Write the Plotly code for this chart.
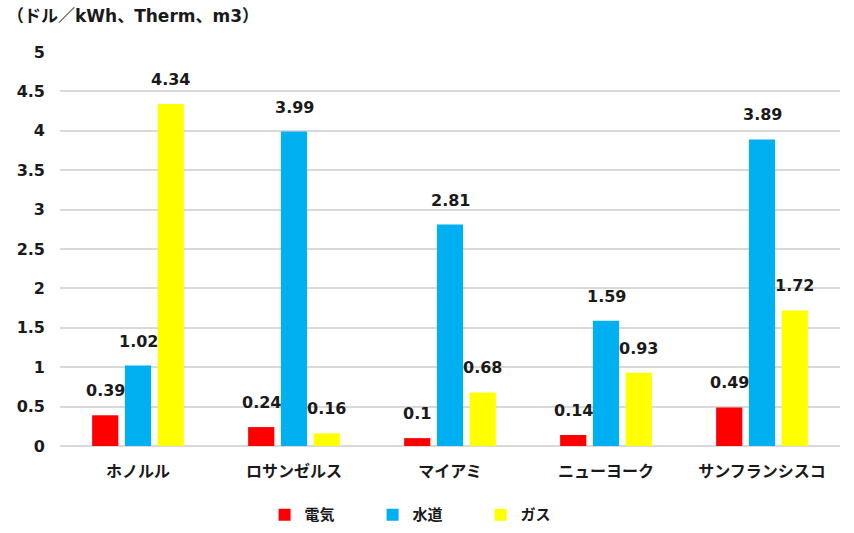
import plotly.graph_objects as go

cities = ["ホノルル", "ロサンゼルス", "マイアミ", "ニューヨーク", "サンフランシスコ"]
electric = [0.39, 0.24, 0.1, 0.14, 0.49]
water = [1.02, 3.99, 2.81, 1.59, 3.89]
gas = [4.34, 0.16, 0.68, 0.93, 1.72]
series_names = ["電気", "水道", "ガス"]
colors = ["#FF0000", "#00B0F0", "#FFFF00"]
y_ticks = [0, 0.5, 1, 1.5, 2, 2.5, 3, 3.5, 4, 4.5, 5]
unit_label = "（ドル／kWh、Therm、m3）"

FONT = "DejaVu Sans, Noto Sans CJK JP, sans-serif"
W, H = 854, 533
ML, MR, MT, MB = 60, 14, 52, 87
BARGAP, GROUPGAP = 0.37, 0.2

fig = go.Figure()
all_series = [electric, water, gas]
for name, vals, col in zip(series_names, all_series, colors):
    fig.add_trace(go.Bar(
        x=cities, y=vals, name=f"<b>{name}</b>",
        marker=dict(color=col, line=dict(width=0)),
    ))

# data labels as annotations, shifted horizontally to each bar of the group
cat_px = (W - ML - MR) / len(cities)
slot_px = cat_px * (1 - BARGAP) / len(all_series)
annotations = []
for si, vals in enumerate(all_series):
    off = (si - (len(all_series) - 1) / 2) * slot_px
    for c, v in zip(cities, vals):
        annotations.append(dict(
            x=c, y=v, xref="x", yref="y", text=f"<b>{v:g}</b>",
            showarrow=False, xshift=off, yshift=13, yanchor="bottom",
            font=dict(size=16, family=FONT, color="#1a1a1a")))
annotations.append(dict(text=f"<b>{unit_label}</b>", xref="paper", yref="paper",
                        x=-0.07, y=1.06, xanchor="left", yanchor="bottom",
                        showarrow=False, font=dict(size=17, family=FONT, color="#1a1a1a")))

fig.update_layout(
    width=W, height=H,
    margin=dict(l=ML, r=MR, t=MT, b=MB, autoexpand=False),
    paper_bgcolor="white", plot_bgcolor="white",
    barmode="group", bargap=BARGAP, bargroupgap=GROUPGAP,
    font=dict(family=FONT, color="#1a1a1a"),
    showlegend=True,
    legend=dict(orientation="h", x=0.47, xanchor="center",
                yref="container", y=0.034, yanchor="middle",
                font=dict(size=15, family=FONT), itemwidth=30,
                entrywidth=63),
    annotations=annotations,
)
fig.update_yaxes(range=[0, 5], tickvals=y_ticks, ticktext=[f"<b>{t:g}</b>" for t in y_ticks],
                 showgrid=True, gridcolor="#D9D9D9", gridwidth=1.5,
                 zeroline=True, zerolinecolor="#D9D9D9", zerolinewidth=1.5,
                 tickfont=dict(size=16, family=FONT, color="#1a1a1a"),
                 ticklabelstandoff=14, showline=False, automargin=False)
fig.update_xaxes(tickvals=cities, ticktext=[f"<b>{c}</b>" for c in cities],
                 tickfont=dict(size=16, family=FONT, color="#1a1a1a"),
                 ticklabelstandoff=14, showline=False, automargin=False)

fig.write_html("out.html")
